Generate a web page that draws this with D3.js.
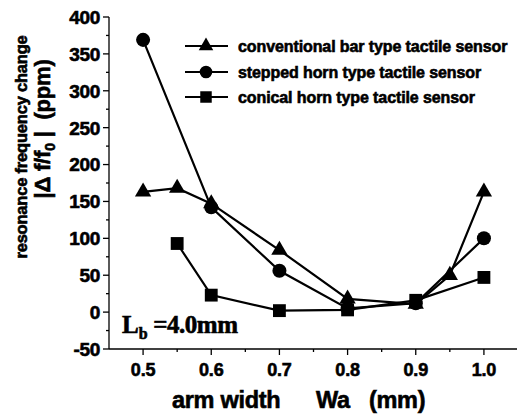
<!DOCTYPE html>
<html>
<head>
<meta charset="utf-8">
<script src="https://cdn.jsdelivr.net/npm/d3@7"></script>
<style>
  html, body { margin: 0; padding: 0; background: #fff; }
  svg { display: block; }
  text { fill: #000; }
  .heavy { stroke: #000; stroke-width: 0.6px; }
</style>
</head>
<body>
<svg id="chart" width="517" height="414"></svg>
<script>
// arm width Wa (mm) and resonance frequency change |Δf/f0| (ppm)
const barWidths     = [0.5, 0.55, 0.6, 0.7, 0.8, 0.9, 0.95, 1.0];
const barValues     = [163, 168, 147, 84, 18, 11, 50, 163];
const steppedWidths = [0.5, 0.6, 0.7, 0.8, 0.9, 1.0];
const steppedValues = [369, 142, 56, 5, 12, 100];
const conicalWidths = [0.55, 0.6, 0.7, 0.8, 0.9, 1.0];
const conicalValues = [93, 23, 2, 3, 16, 47];

const seriesNames = [
  "conventional bar type tactile sensor",
  "stepped horn type tactile sensor",
  "conical horn type tactile sensor"
];
const xTicks = [0.5, 0.6, 0.7, 0.8, 0.9, 1.0];
const xMinorTicks = [0.55, 0.65, 0.75, 0.85, 0.95];
const yTicks = [-50, 0, 50, 100, 150, 200, 250, 300, 350, 400];
const yMinorTicks = [-25, 25, 75, 125, 175, 225, 275, 325, 375];

const svg = d3.select("#chart");
const x = d3.scaleLinear().domain([0.45, 1.05]).range([109, 518]);
const y = d3.scaleLinear().domain([-50, 400]).range([349, 17]);

const sansBold = "Arial, 'Liberation Sans', sans-serif";

// axes: left and bottom only
const axisG = svg.append("g");
axisG.append("line").attr("x1", x(0.45)).attr("x2", x(0.45)).attr("y1", y(-50)).attr("y2", y(400))
  .attr("stroke", "#000").attr("stroke-width", 1.3);
axisG.append("line").attr("x1", x(0.45)).attr("x2", x(1.05)).attr("y1", y(-50)).attr("y2", y(-50))
  .attr("stroke", "#000").attr("stroke-width", 1.3);

// y ticks
yTicks.forEach(v => {
  axisG.append("line").attr("x1", 103).attr("x2", 109).attr("y1", y(v)).attr("y2", y(v))
    .attr("stroke", "#000").attr("stroke-width", 1.3);
  axisG.append("text").attr("class", "heavy").attr("x", 100).attr("y", y(v)).attr("dy", "0.36em")
    .attr("text-anchor", "end").attr("font-family", sansBold).attr("font-weight", "bold")
    .attr("font-size", 19).attr("letter-spacing", -0.3).text(v);
});
yMinorTicks.forEach(v => {
  axisG.append("line").attr("x1", 106).attr("x2", 109).attr("y1", y(v)).attr("y2", y(v))
    .attr("stroke", "#000").attr("stroke-width", 1.3);
});
// x ticks
xTicks.forEach(v => {
  axisG.append("line").attr("x1", x(v)).attr("x2", x(v)).attr("y1", 349).attr("y2", 355)
    .attr("stroke", "#000").attr("stroke-width", 1.3);
  axisG.append("text").attr("class", "heavy").attr("x", x(v)).attr("y", 376)
    .attr("text-anchor", "middle").attr("font-family", sansBold).attr("font-weight", "bold")
    .attr("font-size", 18).attr("letter-spacing", -0.2).text(d3.format(".1f")(v));
});
xMinorTicks.forEach(v => {
  axisG.append("line").attr("x1", x(v)).attr("x2", x(v)).attr("y1", 349).attr("y2", 352)
    .attr("stroke", "#000").attr("stroke-width", 1.3);
});

// x axis title
const xt = svg.append("g").attr("class", "heavy").attr("font-family", sansBold)
  .attr("font-weight", "bold").attr("font-size", 23.5);
xt.append("text").attr("x", 172).attr("y", 408).attr("letter-spacing", -0.3).text("arm width");
xt.append("text").attr("x", 316).attr("y", 408).attr("letter-spacing", -0.3).text("Wa");
xt.append("text").attr("x", 369).attr("y", 408).attr("letter-spacing", -0.3).text("(mm)");

// y axis title (two lines)
const yt = svg.append("g").attr("class", "heavy").attr("font-family", sansBold).attr("font-weight", "bold");
yt.append("text").attr("transform", "translate(27,147) rotate(-90)")
  .attr("text-anchor", "middle").attr("font-size", 16.5).attr("letter-spacing", -0.2)
  .text("resonance frequency change");
const yt2 = yt.append("text").attr("transform", "translate(50,129) rotate(-90)")
  .attr("text-anchor", "middle").attr("font-size", 22).attr("letter-spacing", -0.2)
  .style("white-space", "pre");
yt2.append("tspan").text("|Δ f/f");
yt2.append("tspan").attr("font-size", 14).attr("dy", 5).text("0");
yt2.append("tspan").attr("dy", -5).text(" |  (ppm)");

// data series
const series = [
  { name: seriesNames[0], xs: barWidths, ys: barValues, symbol: d3.symbolTriangle, size: 115 },
  { name: seriesNames[1], xs: steppedWidths, ys: steppedValues, symbol: d3.symbolCircle, size: 155 },
  { name: seriesNames[2], xs: conicalWidths, ys: conicalValues, symbol: d3.symbolSquare, size: 165 }
];

const line = d3.line().x(d => x(d[0])).y(d => y(d[1]));
series.forEach(s => {
  const pts = s.xs.map((v, i) => [v, s.ys[i]]);
  svg.append("path").attr("d", line(pts)).attr("fill", "none")
    .attr("stroke", "#000").attr("stroke-width", 2.2);
});
series.forEach(s => {
  const pts = s.xs.map((v, i) => [v, s.ys[i]]);
  svg.append("g").selectAll("path").data(pts).join("path")
    .attr("transform", d => `translate(${x(d[0])},${y(d[1])})`)
    .attr("d", d3.symbol(s.symbol, s.size)).attr("fill", "#000");
});

// legend
const lg = svg.append("g");
[46, 72, 97].forEach((ly, i) => {
  const s = series[i];
  lg.append("line").attr("x1", 185).attr("x2", 228).attr("y1", ly).attr("y2", ly)
    .attr("stroke", "#000").attr("stroke-width", 2.2);
  lg.append("path").attr("transform", `translate(206,${ly})`)
    .attr("d", d3.symbol(s.symbol, s.size * 0.8)).attr("fill", "#000");
  lg.append("text").attr("class", "heavy").attr("x", 238).attr("y", ly).attr("dy", "0.36em")
    .attr("font-family", sansBold).attr("font-weight", "bold").attr("font-size", 16)
    .attr("letter-spacing", -0.1).text(s.name);
});

// beam length annotation
const lb = svg.append("text").attr("class", "heavy").attr("x", 122).attr("y", 333)
  .attr("font-family", "'Times New Roman', 'Liberation Serif', serif").attr("font-weight", "bold")
  .attr("font-size", 25).style("white-space", "pre");
lb.append("tspan").text("L");
lb.append("tspan").attr("font-size", 16).attr("dy", 6).text("b");
lb.append("tspan").attr("dy", -6).attr("letter-spacing", -0.5).text(" =4.0mm");
</script>
</body>
</html>
